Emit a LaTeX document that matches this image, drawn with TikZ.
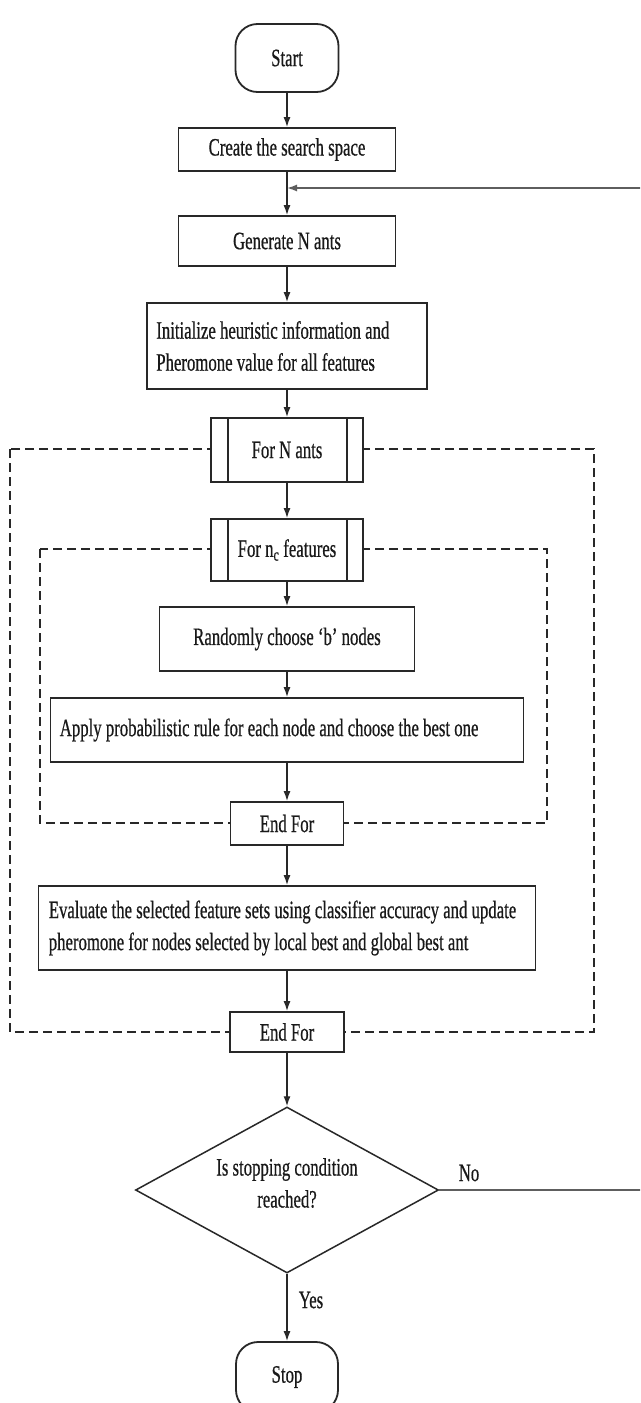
\documentclass[tikz,border=0pt]{standalone}
\usepackage{fontspec}
\setmainfont{Liberation Serif}
\newfontfamily\tfont{Liberation Serif}[FakeBold=0.7]
\usetikzlibrary{shapes.geometric,arrows.meta}
\newcommand{\sq}[1]{\scalebox{0.67}[1]{#1}}
\newcommand{\fs}{\tfont\fontsize{25}{32}\selectfont}
\definecolor{ln}{RGB}{40,40,40}
\definecolor{tx}{RGB}{25,25,25}
\begin{document}
\begin{tikzpicture}[x=1pt,y=-1pt,
  box/.style={draw=ln, line width=1.8pt, fill=white, inner sep=0pt, font=\fs, text=tx},
  term/.style={box, rounded corners=22pt},
  txt/.style={inner sep=0pt, font=\fs, text=tx},
  arr/.style={draw=ln, line width=1.4pt, -{Latex[length=10pt,width=7pt]}},
  dashbox/.style={draw=ln, line width=2pt, dash pattern=on 9pt off 5pt},
  decision/.style={diamond, draw=ln, line width=1.5pt, fill=white, inner sep=0pt}
]
\useasboundingbox (0,0) rectangle (640,1403);
\clip (0,0) rectangle (640,1403);
\fill[white] (0,0) rectangle (640,1403);

% loop frames
\draw[dashbox] (10,449) rectangle (594,1032);
\draw[dashbox] (40,549) rectangle (547,823);

% nodes
\node[term, minimum width=103pt, minimum height=68pt] (start) at (287,58) {\sq{Start}};
\node[box, minimum width=217pt, minimum height=43pt] (create) at (287,149.5) {\sq{Create the search space}};
\node[box, minimum width=217pt, minimum height=50pt] (gen) at (287,241) {\sq{Generate N ants}};
\node[box, minimum width=280pt, minimum height=86pt] (init) at (287,346) {};
\node[txt, anchor=west, align=left] (initT) at ([xshift=10pt]init.west) {\sq{Initialize heuristic information and}\\\sq{Pheromone value for all features}};
\node[box, minimum width=152pt, minimum height=64pt] (fa) at (287,450) {\sq{For N ants}};
\node[box, minimum width=152pt, minimum height=62pt] (fn) at (287,550) {\sq{For n\textsubscript{c} features}};
\node[box, minimum width=255pt, minimum height=64pt] (rand) at (287,639) {\sq{Randomly choose ‘b’ nodes}};
\node[box, minimum width=473pt, minimum height=64pt] (apply) at (287,730) {};
\node[txt, anchor=west] (applyT) at ([xshift=10pt]apply.west) {\sq{Apply probabilistic rule for each node and choose the best one}};
\node[box, minimum width=113pt, minimum height=43pt] (ef1) at (287,823.5) {\sq{End For}};
\node[box, minimum width=497pt, minimum height=84pt] (eval) at (287,928) {};
\node[txt, anchor=west, align=left] (evalT) at ([xshift=11pt]eval.west) {\sq{Evaluate the selected feature sets using classifier accuracy and update}\\\sq{pheromone for nodes selected by local best and global best ant}};
\node[box, minimum width=114pt, minimum height=40pt] (ef2) at (287,1032) {\sq{End For}};
\node[decision, minimum width=303pt, minimum height=166pt] (dec) at (287,1190) {};
\node[txt, align=center] (decT) at (287,1183) {\sq{Is stopping condition}\\\sq{reached?}};
\node[term, minimum width=102pt, minimum height=70pt] (stop) at (287,1377) {\sq{Stop}};
\node[txt] (no) at (469,1173) {\sq{No}};
\node[txt] (yes) at (311,1300) {\sq{Yes}};

% loop markers inside the For boxes
\foreach \n in {fa,fn}{
  \draw[draw=ln, line width=1.6pt] ([xshift=18pt]\n.north west) -- ([xshift=18pt]\n.south west);
  \draw[draw=ln, line width=1.6pt] ([xshift=-17pt]\n.north east) -- ([xshift=-17pt]\n.south east);
}

% connectors
\draw[arr] (start) -- (create);
\draw[arr] (create) -- (gen);
\draw[arr] (gen) -- (init);
\draw[arr] (init) -- (fa);
\draw[arr] (fa) -- (fn);
\draw[arr] (fn) -- (rand);
\draw[arr] (rand) -- (apply);
\draw[arr] (apply) -- (ef1);
\draw[arr] (ef1) -- (eval);
\draw[arr] (eval) -- (ef2);
\draw[arr] (ef2) -- (dec);
\draw[arr] (dec) -- (stop);

% feedback loop (its vertical run lies beyond the right edge)
\coordinate (fb) at (287,188);
\coordinate (far) at (670,1190);
\draw[arr, draw=ln!75] (dec.east) -- (far) |- (fb);
\end{tikzpicture}
\end{document}
